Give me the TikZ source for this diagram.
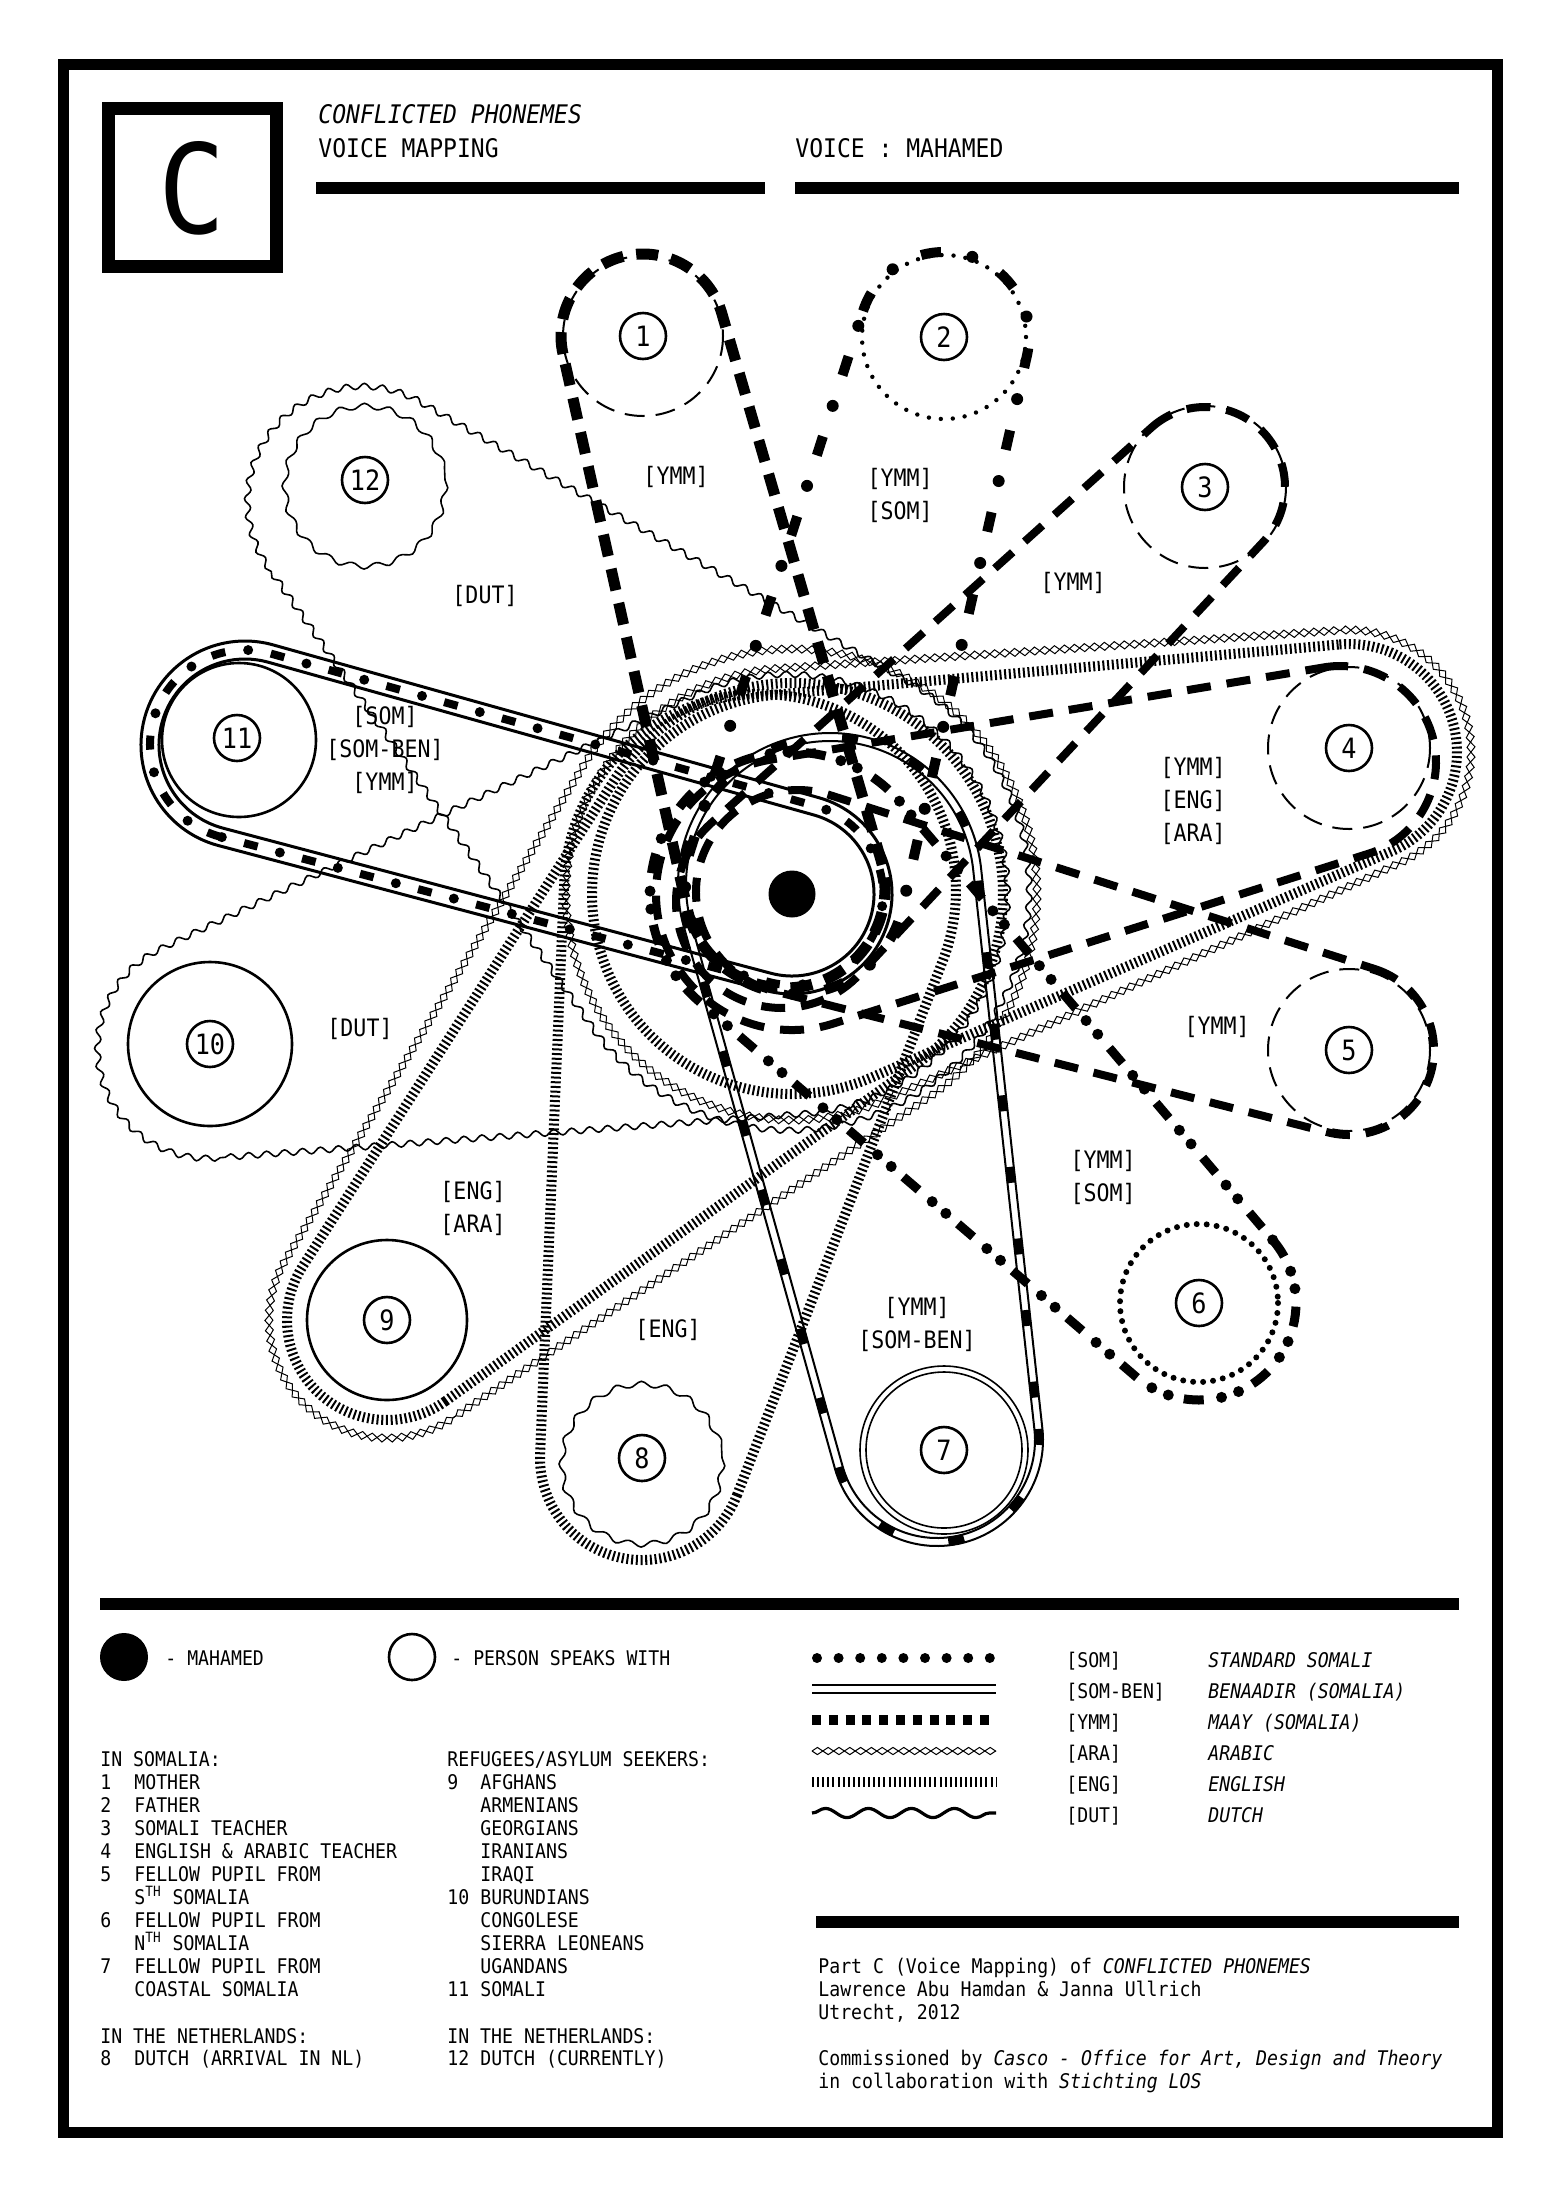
\documentclass[tikz,border=0pt]{standalone}
\usepackage{fontspec}
\setmainfont{DejaVu Sans Mono}[FakeStretch=0.9]
\usetikzlibrary{decorations.pathmorphing}

\newcommand\fbody{\fontsize{10.1}{12}\selectfont}
\newcommand\flab{\fontsize{12}{16.5}\selectfont}
\newcommand\ftitle{\fontsize{12.8}{15}\selectfont}
\newcommand\fnum{\fontsize{14}{14}\selectfont}

% convex hull of circle (#2,#3) radius #4 and circle (#5,#6) radius #7
\newcommand\loophull[7]{%
  \pgfmathsetmacro\lhdx{(#2-#5)/100}%
  \pgfmathsetmacro\lhdy{(#3-#6)/100}%
  \pgfmathsetmacro\lhd{100*veclen(\lhdx,\lhdy)}%
  \pgfmathsetmacro\lhphi{atan2(\lhdy,\lhdx)}%
  \pgfmathsetmacro\lhbeta{acos((#7-#4)/\lhd)}%
  \pgfmathsetmacro\lha{\lhphi-\lhbeta}%
  \pgfmathsetmacro\lhb{\lhphi+\lhbeta}%
  \pgfmathsetmacro\lhc{\lha+360}%
  \pgfmathsetmacro\lhsx{#2+#4*cos(\lha)}%
  \pgfmathsetmacro\lhsy{#3+#4*sin(\lha)}%
  \pgfmathsetmacro\lhtx{#5+#7*cos(\lhb)}%
  \pgfmathsetmacro\lhty{#6+#7*sin(\lhb)}%
  \draw[#1] (\lhsx,\lhsy) arc[start angle=\lha, end angle=\lhb, radius=#4]
     -- (\lhtx,\lhty) arc[start angle=\lhb, end angle=\lhc, radius=#7] -- cycle;%
}

\begin{document}
\begin{tikzpicture}[x=0.5pt,y=-0.5pt,
  ymmA/.style={line width=5.5pt, dash pattern=on 11pt off 6.5pt},
  ymmB/.style={line width=4pt, dash pattern=on 12pt off 8pt},
  engl/.style={line width=5pt, dash pattern=on 1pt off 1.35pt},
  araup/.style={line width=0.5pt, decorate, decoration={zigzag, segment length=10pt, amplitude=2pt}},
  aradn/.style={line width=0.5pt, decorate, decoration={zigzag, segment length=10pt, amplitude=2pt, mirror}},
  dutl/.style={line width=0.8pt, decorate, decoration={snake, segment length=9pt, amplitude=1.5pt}},
  twodash/.style={line width=5pt, dash pattern=on 10pt off 32pt},
  twodot/.style={line width=6pt, line cap=round, dash pattern=on 0pt off 42pt, dash phase=16pt},
  sixdash/.style={line width=4.5pt, dash pattern=on 10pt off 26pt},
  sixdot/.style={line width=5.5pt, line cap=round, dash pattern=on 0pt off 9pt on 0pt off 27pt, dash phase=18pt},
  sevline/.style={line width=1pt},
  sevdash/.style={line width=4.5pt, dash pattern=on 8pt off 28pt},
  elvline/.style={line width=1.5pt},
  elvdash/.style={line width=4pt, dash pattern=on 7pt off 23pt},
  elvdot/.style={line width=5pt, line cap=round, dash pattern=on 0pt off 30pt, dash phase=11.5pt},
  pdash/.style={line width=1pt, dash pattern=on 10pt off 5.5pt},
  pdot/.style={line width=3pt, line cap=round, dash pattern=on 0pt off 5pt},
  pdotsm/.style={line width=2.2pt, line cap=round, dash pattern=on 0pt off 6pt},
  pwave/.style={line width=0.8pt, decorate, decoration={snake, segment length=12.5pt, amplitude=1.4pt}},
  psolid/.style={line width=1.3pt},
  numc/.style={circle, draw, line width=1.3pt, fill=white, minimum size=23pt, inner sep=0pt, font=\fnum},
  lab/.style={font=\flab, align=center, inner sep=0pt},
  txt/.style={font=\fbody, anchor=base west, inner sep=0pt},
  itx/.style={font=\fbody\itshape, anchor=base west, inner sep=0pt},
  ttl/.style={font=\ftitle, anchor=base west, inner sep=0pt}
]
\useasboundingbox (0,0) rectangle (1560,2190);
\fill[white] (0,0) rectangle (1560,2190);

% frame
\draw[line width=5.5pt] (63.5,64.5) rectangle (1497.5,2132.5);

% header
\draw[line width=6.5pt] (108.5,108.5) rectangle (276.5,266.5);
\node[font=\fontsize{62}{62}\selectfont, inner sep=0pt] (bigc) at (192,188) {C};
\node[ttl, font=\ftitle\itshape] (h1) at (318,123) {CONFLICTED PHONEMES};
\node[ttl] (h2) at (318,157) {VOICE MAPPING};
\node[ttl] (h3) at (795,157) {VOICE : MAHAMED};
\fill (316,182) rectangle (765,194);
\fill (795,182) rectangle (1459,194);

% ---------- loops ----------
% 12 DUT
\loophull{dutl}{365}{505}{115}{792}{894}{240}
% 10 DUT
\loophull{dutl}{212}{1048}{110}{792}{894}{220}
% 9 ENG + ARA
\loophull{engl}{387}{1320}{100}{792}{894}{211}
\loophull{araup}{387}{1320}{118}{792}{894}{245}
\loophull{aradn}{387}{1320}{118}{792}{894}{245}
% 8 ENG
\loophull{engl}{642}{1458}{102}{760}{890}{196}
% 4 ENG + ARA
\loophull{engl}{1349}{752}{108}{792}{894}{200}
\loophull{araup}{1349}{752}{122}{792}{894}{226}
\loophull{aradn}{1349}{752}{122}{792}{894}{226}
% 7 YMM + SOM-BEN
\loophull{sevline}{937}{1440}{106}{830}{885}{152}
\loophull{sevline}{937}{1440}{98}{830}{885}{144}
\loophull{sevdash}{937}{1440}{102}{830}{885}{148}
% 11 SOM + SOM-BEN + YMM
\loophull{elvline}{245}{745}{104}{792}{894}{100}
\loophull{elvline}{245}{745}{86}{792}{894}{82}
\loophull{elvdash}{245}{745}{95}{792}{894}{91}
\loophull{elvdot}{245}{745}{95}{792}{894}{91}
% 1 YMM
\loophull{ymmA}{643}{336}{82}{785}{888}{100}
% 2 YMM + SOM
\loophull{twodash}{944}{337}{85}{795}{884}{110}
\loophull{twodot}{944}{337}{85}{795}{884}{110}
% 3 YMM
\loophull{ymmB}{1205}{487}{80}{782}{902}{106}
% 4 YMM
\loophull{ymmB}{1340}{762}{96}{792}{894}{136}
% 5 YMM
\loophull{ymmB}{1349}{1050}{85}{798}{892}{102}
% 6 YMM + SOM
\loophull{sixdash}{1199}{1303}{97}{792}{894}{142}
\loophull{sixdot}{1199}{1303}{97}{792}{894}{142}

% ---------- person circles ----------
\draw[pdash] (643,336) circle[radius=80];
\draw[pdotsm] (944,337) circle[radius=82];
\draw[pdash] (1205,487) circle[radius=81];
\draw[pdash] (1349,748) circle[radius=81];
\draw[pdash] (1349,1050) circle[radius=81];
\draw[pdot] (1199,1303) circle[radius=79];
\draw[line width=0.8pt] (944,1450) circle[radius=84];
\draw[line width=0.8pt] (944,1450) circle[radius=78];
\draw[pwave] (642,1458) circle[radius=80];
\draw[psolid] (387,1320) circle[radius=80];
\draw[psolid] (210,1044) circle[radius=82];
\draw[psolid] (239,740) circle[radius=77];
\draw[pwave] (365,480) circle[radius=80];

% Mahamed
\node[circle, fill=black, minimum size=23.5pt, inner sep=0pt] (mah) at (792,894) {};

% numbers
\node[numc] (n1) at (643,336) {1};
\node[numc] (n2) at (944,337) {2};
\node[numc] (n3) at (1205,487) {3};
\node[numc] (n4) at (1349,748) {4};
\node[numc] (n5) at (1349,1050) {5};
\node[numc] (n6) at (1199,1303) {6};
\node[numc] (n7) at (944,1450) {7};
\node[numc] (n8) at (642,1458) {8};
\node[numc] (n9) at (387,1320) {9};
\node[numc] (n10) at (210,1044) {10};
\node[numc] (n11) at (237,738) {11};
\node[numc] (n12) at (365,480) {12};

% region labels
\node[lab] (g1) at (676,477) {[YMM]};
\node[lab] (g2) at (900,495) {[YMM]\\{}[SOM]};
\node[lab] (g3) at (1073,583) {[YMM]};
\node[lab] (g4) at (1193,801) {[YMM]\\{}[ENG]\\{}[ARA]};
\node[lab] (g5) at (1217,1027) {[YMM]};
\node[lab] (g6) at (1103,1177) {[YMM]\\{}[SOM]};
\node[lab] (g7) at (917,1324) {[YMM]\\{}[SOM-BEN]};
\node[lab] (g8) at (668,1330) {[ENG]};
\node[lab] (g9) at (473,1208) {[ENG]\\{}[ARA]};
\node[lab] (g10) at (360,1029) {[DUT]};
\node[lab] (g11) at (385,750) {[SOM]\\{}[SOM-BEN]\\{}[YMM]};
\node[lab] (g12) at (485,596) {[DUT]};

% ---------- lower part ----------
\fill (100,1598) rectangle (1459,1610);
\node[circle, fill=black, minimum size=24pt, inner sep=0pt] (lm) at (124,1657) {};
\node[txt] (lmt) at (165,1665) {- MAHAMED};
\node[circle, draw, line width=1.3pt, minimum size=23pt, inner sep=0pt] (lp) at (412,1657) {};
\node[txt] (lpt) at (451,1665) {- PERSON SPEAKS WITH};

% line legend
\draw[line width=5pt, line cap=round, dash pattern=on 0pt off 10.8pt] (817,1658) -- (991,1658);
\draw[line width=1.2pt] (812,1685) -- (996,1685);
\draw[line width=1.2pt] (812,1693) -- (996,1693);
\draw[line width=5pt, dash pattern=on 4.5pt off 3.9pt] (812,1720) -- (996,1720);
\draw[line width=0.5pt, decorate, decoration={zigzag, segment length=10.8pt, amplitude=1.8pt}] (812,1751) -- (996,1751);
\draw[line width=0.5pt, decorate, decoration={zigzag, segment length=10.8pt, amplitude=1.8pt, mirror}] (812,1751) -- (996,1751);
\draw[line width=5pt, dash pattern=on 1pt off 1.55pt] (812,1782) -- (996,1782);
\draw[line width=1.6pt, decorate, decoration={snake, segment length=21.5pt, amplitude=2.3pt}] (812,1813) -- (996,1813);

\node[txt] (c1) at (1066,1667) {[SOM]};
\node[txt] (c2) at (1066,1698) {[SOM-BEN]};
\node[txt] (c3) at (1066,1729) {[YMM]};
\node[txt] (c4) at (1066,1760) {[ARA]};
\node[txt] (c5) at (1066,1791) {[ENG]};
\node[txt] (c6) at (1066,1822) {[DUT]};
\node[itx] (d1) at (1208,1667) {STANDARD SOMALI};
\node[itx] (d2) at (1208,1698) {BENAADIR (SOMALIA)};
\node[itx] (d3) at (1208,1729) {MAAY (SOMALIA)};
\node[itx] (d4) at (1208,1760) {ARABIC};
\node[itx] (d5) at (1208,1791) {ENGLISH};
\node[itx] (d6) at (1208,1822) {DUTCH};

% list column 1
\node[txt] (a0) at (100,1766) {IN SOMALIA:};
\node[txt] (a1n) at (100,1789) {1};  \node[txt] (a1) at (134,1789) {MOTHER};
\node[txt] (a2n) at (100,1812) {2};  \node[txt] (a2) at (134,1812) {FATHER};
\node[txt] (a3n) at (100,1835) {3};  \node[txt] (a3) at (134,1835) {SOMALI TEACHER};
\node[txt] (a4n) at (100,1858) {4};  \node[txt] (a4) at (134,1858) {ENGLISH \& ARABIC TEACHER};
\node[txt] (a5n) at (100,1881) {5};  \node[txt] (a5) at (134,1881) {FELLOW PUPIL FROM};
\node[txt] (a5b) at (134,1904) {S\textsuperscript{TH} SOMALIA};
\node[txt] (a6n) at (100,1927) {6};  \node[txt] (a6) at (134,1927) {FELLOW PUPIL FROM};
\node[txt] (a6b) at (134,1950) {N\textsuperscript{TH} SOMALIA};
\node[txt] (a7n) at (100,1973) {7};  \node[txt] (a7) at (134,1973) {FELLOW PUPIL FROM};
\node[txt] (a7b) at (134,1996) {COASTAL SOMALIA};
\node[txt] (a8h) at (100,2043) {IN THE NETHERLANDS:};
\node[txt] (a8n) at (100,2065) {8};  \node[txt] (a8) at (134,2065) {DUTCH (ARRIVAL IN NL)};

% list column 2
\node[txt] (b0) at (447,1766) {REFUGEES/ASYLUM SEEKERS:};
\node[txt] (b9n) at (447,1789) {9};  \node[txt] (b9) at (480,1789) {AFGHANS};
\node[txt] (b9b) at (480,1812) {ARMENIANS};
\node[txt] (b9c) at (480,1835) {GEORGIANS};
\node[txt] (b9d) at (480,1858) {IRANIANS};
\node[txt] (b9e) at (480,1881) {IRAQI};
\node[txt] (b10n) at (447,1904) {10}; \node[txt] (b10) at (480,1904) {BURUNDIANS};
\node[txt] (b10b) at (480,1927) {CONGOLESE};
\node[txt] (b10c) at (480,1950) {SIERRA LEONEANS};
\node[txt] (b10d) at (480,1973) {UGANDANS};
\node[txt] (b11n) at (447,1996) {11}; \node[txt] (b11) at (480,1996) {SOMALI};
\node[txt] (b12h) at (447,2043) {IN THE NETHERLANDS:};
\node[txt] (b12n) at (447,2065) {12}; \node[txt] (b12) at (480,2065) {DUTCH (CURRENTLY)};

% credits
\fill (816,1916) rectangle (1459,1928);
\node[txt] (r1) at (818,1973) {Part C (Voice Mapping) of \textit{CONFLICTED PHONEMES}};
\node[txt] (r2) at (818,1996) {Lawrence Abu Hamdan \& Janna Ullrich};
\node[txt] (r3) at (818,2019) {Utrecht, 2012};
\node[txt] (r4) at (818,2065) {Commissioned by \textit{Casco - Office for Art, Design and Theory}};
\node[txt] (r5) at (818,2088) {in collaboration with \textit{Stichting LOS}};
\end{tikzpicture}
\end{document}
